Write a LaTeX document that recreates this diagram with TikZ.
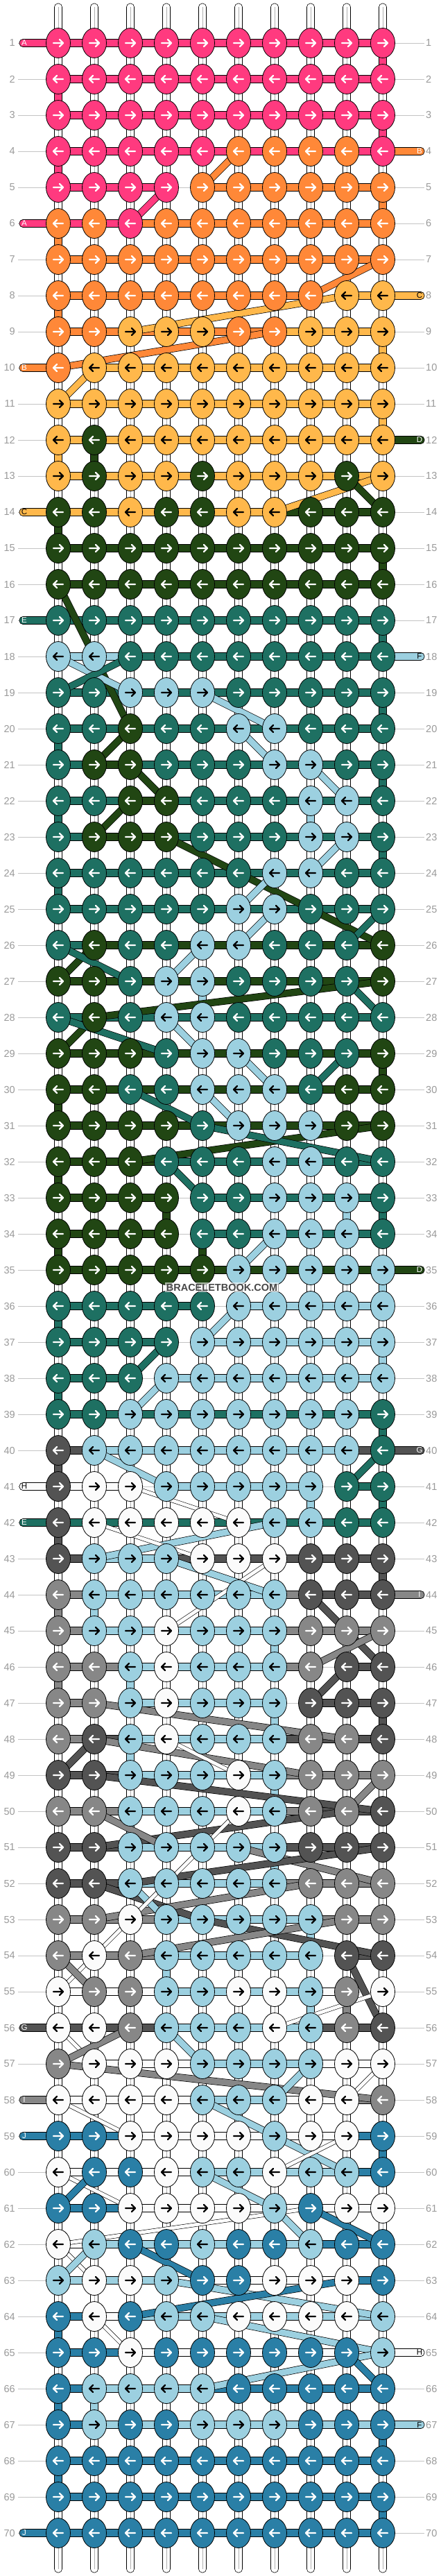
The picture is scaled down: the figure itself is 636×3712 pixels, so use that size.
\documentclass[tikz,border=0pt]{standalone}
\usepackage{fontspec}
\setmainfont{Liberation Sans}
\usetikzlibrary{shapes.geometric}
\definecolor{p}{HTML}{FF3A7F}
\definecolor{o}{HTML}{FF8838}
\definecolor{y}{HTML}{FFB84B}
\definecolor{d}{HTML}{214613}
\definecolor{t}{HTML}{1E7062}
\definecolor{l}{HTML}{9CD0E0}
\definecolor{k}{HTML}{535353}
\definecolor{g}{HTML}{878787}
\definecolor{w}{HTML}{FBFBFB}
\definecolor{b}{HTML}{2A7FA6}
\definecolor{labgray}{HTML}{9A9A9A}
\definecolor{guide}{HTML}{C4C4C4}
\colorlet{ap}{white}\colorlet{ao}{white}\colorlet{ay}{black}\colorlet{ad}{white}
\colorlet{at}{white}\colorlet{al}{black}\colorlet{ak}{white}\colorlet{ag}{white}
\colorlet{aw}{black}\colorlet{ab}{white}
\tikzset{
  knot/.style={ellipse, draw=black, line width=0.8pt, minimum width=35pt, minimum height=43pt, inner sep=0pt},
  band/.style={fill=#1, draw=black, line width=0.7pt},
  warp/.style={fill=white, draw=black, line width=0.6pt},
  vband/.style={fill=#1, draw=black, line width=0.6pt},
  diag/.style={draw=black, line width=0.7pt, double=#1, double distance=9pt},
  wdiag/.style={draw=black, line width=0.6pt, double=w, double distance=5pt},
  lab/.style={text=labgray, font=\fontsize{14.5}{14.5}\selectfont, inner sep=0pt},
  endlab/.style={font=\fontsize{11.5}{11.5}\selectfont, inner sep=0pt},
  arr/.style={line width=2.4pt, line cap=round, line join=round}
}
\begin{document}
\begin{tikzpicture}[x=1pt,y=-1pt]
\fill[white] (0,0) rectangle (636,3712);
\useasboundingbox (0,0) rectangle (636,3712);
% knot centres
\foreach \ro in {1,...,70}{\foreach \co in {1,...,10}{\coordinate (n\ro-\co) at ({32+52*\co},{10+52*\ro});}}
% guide lines and row numbers
\foreach \ro in {1,...,70}{
  \draw[guide, line width=0.8pt] ([xshift=-58pt]n\ro-1) -- ([xshift=60pt]n\ro-10);
  \node[lab, anchor=east] (ll\ro) at ([xshift=-62pt]n\ro-1) {\ro};
  \node[lab, anchor=west] (rl\ro) at ([xshift=62pt]n\ro-10) {\ro};
}
% loose warp ends
\foreach \co in {1,...,10}{
  \draw[warp, rounded corners=5pt] ([xshift=-5.5pt,yshift=57pt]n1-\co) rectangle ([xshift=5.5pt]n1-\co);
  \draw[guide!70!gray, line width=0.5pt] ([yshift=52pt]n1-\co) -- (n1-\co);
  \draw[warp, rounded corners=5pt] ([xshift=-5.5pt]n70-\co) rectangle ([xshift=5.5pt,yshift=-57pt]n70-\co);
  \draw[guide!70!gray, line width=0.5pt] (n70-\co) -- ([yshift=-52pt]n70-\co);
}
% warps between rows
\foreach \ro in {1,...,69}{\pgfmathtruncatemacro\rn{\ro+1}
  \foreach \co in {1,...,10}{
    \draw[warp] ([xshift=-5.5pt]n\ro-\co) rectangle ([xshift=5.5pt]n\rn-\co);
    \draw[guide!70!gray, line width=0.5pt] (n\ro-\co) -- (n\rn-\co);
}}
% coloured vertical links
\foreach \ro/\co/\vc in {1/10/p,2/1/p,3/10/p,4/1/p,5/10/o,6/1/o,8/1/o,9/10/y,11/10/y,12/1/y,12/2/d,
  14/1/d,15/10/d,17/10/t,19/10/t,20/1/t,21/10/t,22/1/t,22/8/l,23/10/t,24/1/t,27/5/l,29/10/d,30/1/d,
  32/1/d,33/4/d,33/9/l,33/10/t,34/1/d,34/5/d,35/10/l,36/1/t,37/10/l,38/1/t,39/10/t,40/1/k,41/8/l,
  41/10/t,42/1/k,43/10/k,44/1/g,44/2/l,45/7/l,46/1/g,46/3/l,47/7/l,47/10/k,48/3/l,49/7/l,50/3/l,
  51/7/l,53/8/l,54/4/l,55/8/l,55/9/g,59/10/b,64/1/b,66/1/b,66/2/l,67/10/b,68/1/b,69/10/b}{
  \pgfmathtruncatemacro\rn{\ro+1}
  \draw[vband=\vc] ([xshift=-5.5pt]n\ro-\co) rectangle ([xshift=5.5pt]n\rn-\co);
}
% horizontal bands
\foreach \ro/\ss in {
1/{p,p,p,p,p,p,p,p,p},2/{p,p,p,p,p,p,p,p,p},3/{p,p,p,p,p,p,p,p,p},4/{p,p,p,p,p,p,p,p,p},
5/{p,p,p,n,o,o,o,o,o},6/{p,p,o,o,o,o,o,o,o},7/{o,o,o,o,o,o,o,o,o},8/{o,o,o,o,o,o,o,n,y},
9/{o,o,o,o,o,o,y,y,y},10/{n,y,y,y,y,y,y,y,y},11/{y,y,y,y,y,y,y,y,y},12/{y,y,y,y,y,y,y,y,y},
13/{y,y,y,y,y,y,y,y,y},14/{y,y,y,y,y,y,d,d,d},15/{d,d,d,d,d,d,d,d,d},16/{d,d,d,d,d,d,d,d,d},
17/{t,t,t,t,t,t,t,t,t},18/{l,l,t,t,t,t,t,t,t},19/{t,t,t,t,t,t,t,t,t},20/{t,t,t,t,t,t,t,t,t},
21/{t,d,t,t,t,t,t,t,t},22/{t,t,d,t,t,t,t,t,t},23/{t,d,d,t,t,t,t,t,t},24/{t,t,t,t,t,t,t,t,t},
25/{t,t,t,t,t,t,t,t,t},26/{t,d,d,d,d,d,d,d,d},27/{d,d,d,d,d,d,d,d,d},28/{t,t,t,t,t,t,t,t,t},
29/{d,d,d,d,d,d,d,d,d},30/{d,d,d,d,d,d,d,d,d},31/{d,d,d,d,d,d,d,d,d},32/{d,d,d,t,t,t,t,t,t},
33/{d,d,d,n,t,t,t,t,t},34/{d,d,d,n,t,t,t,t,t},35/{d,d,d,d,d,d,d,d,d},36/{t,t,t,t,n,l,l,l,l},
37/{t,t,t,n,l,l,l,l,l},38/{t,t,n,l,l,l,l,l,l},39/{t,t,t,t,t,t,t,t,t},40/{k,l,l,l,l,l,l,l,k},
41/{w,w,n,l,l,l,l,n,t},42/{t,t,t,t,t,t,t,t,t},43/{k,l,l,k,k,k,k,k,k},44/{g,l,l,l,l,l,g,k,k},
45/{g,l,l,l,l,l,g,g,g},46/{g,g,l,l,l,l,g,n,k},47/{g,n,l,l,l,l,n,k,k},48/{g,k,l,l,l,l,k,k,k},
49/{k,k,l,l,l,l,g,g,g},50/{g,g,l,l,l,l,g,k,k},51/{k,k,l,l,l,l,k,k,k},52/{k,k,l,l,l,l,g,g,g},
53/{g,g,g,l,l,l,l,g,g},54/{g,g,g,l,l,l,l,n,k},55/{w,w,w,l,l,l,l,w,n},56/{k,k,k,l,l,l,l,k,k},
57/{n,w,w,w,l,l,l,w,w},58/{w,w,w,w,l,l,w,w,g},59/{b,b,w,w,w,w,w,w,b},60/{w,w,w,w,l,l,l,l,b},
61/{b,b,w,w,w,w,w,w,w},62/{w,l,l,l,l,l,l,b,b},63/{l,l,l,w,w,w,w,w,b},64/{b,w,l,l,l,l,l,l,l},
65/{b,b,w,w,w,w,w,w,w},66/{b,l,l,l,b,b,b,b,b},67/{b,l,l,l,l,l,l,l,l},68/{b,b,b,b,b,b,b,b,b},
69/{b,b,b,b,b,b,b,b,b},70/{b,b,b,b,b,b,b,b,b}}{
  \foreach \so [count=\co] in \ss {
    \if n\so\else
      \pgfmathtruncatemacro\cn{\co+1}
      \draw[band=\so] ([yshift=5.5pt]n\ro-\co) rectangle ([yshift=-5.5pt]n\ro-\cn);
    \fi
}}
% loose thread ends
\foreach \ro/\ec/\lt/\lc in {1/p/A/white,6/p/A/white,10/o/B/white,14/y/C/black,17/t/E/white,
  41/w/H/black,42/t/E/white,56/k/G/white,58/g/I/white,59/b/J/white,70/b/J/white}{
  \draw[band=\ec, rounded corners=5pt] ([xshift=-56pt,yshift=5.5pt]n\ro-1) rectangle ([yshift=-5.5pt]n\ro-1);
  \node[endlab, text=\lc] (el\ro) at ([xshift=-49pt]n\ro-1) {\lt};
}
\foreach \ro/\ec/\lt/\lc in {4/o/B/white,8/y/C/black,12/d/D/white,18/l/F/black,35/d/D/white,
  40/k/G/white,44/g/I/white,65/w/H/black,67/l/F/black}{
  \draw[band=\ec, rounded corners=5pt] ([yshift=5.5pt]n\ro-10) rectangle ([xshift=60pt,yshift=-5.5pt]n\ro-10);
  \node[endlab, text=\lc] (er\ro) at ([xshift=53pt]n\ro-10) {\lt};
}
% diagonal threads
\foreach \ra/\ca/\rb/\cb/\dc in {
4/6/5/5/o,5/4/6/3/p,7/10/8/8/o,8/9/9/3/y,9/7/10/1/o,10/2/11/1/y,13/10/14/7/y,13/9/14/10/d,
16/1/20/3/d,18/1/19/3/l,19/1/18/3/t,19/5/20/7/l,20/6/21/7/l,20/3/21/2/d,21/3/22/4/d,21/8/22/9/l,
22/3/23/2/d,23/4/26/10/d,23/9/24/8/l,24/7/25/6/l,25/7/26/6/l,26/5/27/4/l,25/10/26/9/t,26/2/27/1/d,
26/1/27/3/t,27/10/28/2/d,27/9/28/10/t,28/2/29/1/d,28/1/29/4/t,28/4/29/5/l,29/6/30/7/l,29/9/30/8/t,
30/3/31/5/t,30/5/31/6/l,31/10/32/3/d,31/5/32/10/t,32/4/33/5/t,34/7/35/6/l,36/6/37/5/l,37/4/38/3/t,
38/4/39/3/l,40/2/41/4/l,40/10/41/9/t,41/3/42/6/w,42/7/43/2/l,42/2/43/5/w,43/4/44/7/l,43/7/45/4/w,
44/8/46/10/k,45/10/46/8/g,46/9/47/8/k,47/2/48/9/g,48/2/49/8/g,48/4/49/6/w,49/1/48/2/k,49/2/50/10/k,
49/10/50/9/g,50/9/51/2/k,50/2/51/4/g,50/6/51/5/w,51/6/52/10/g,51/10/52/3/k,52/2/53/5/k,52/8/53/2/g,
52/3/53/4/l,51/5/53/3/w,53/5/54/10/k,53/9/54/3/g,53/3/55/1/w,54/1/55/2/g,54/9/56/10/k,55/10/56/7/w,
56/1/57/2/w,56/3/57/1/g,56/4/57/5/l,57/1/58/10/g,57/8/58/7/l,57/10/58/9/w,58/1/59/3/w,58/5/59/7/l,
59/7/60/9/l,59/9/60/7/w,60/1/61/3/w,60/2/61/1/b,60/5/61/7/l,61/7/62/8/l,61/8/62/1/w,61/8/62/10/b,
62/1/63/2/w,63/1/62/2/l,62/3/63/5/b,63/4/64/10/l,63/9/64/3/b,64/2/65/3/w,64/5/65/10/l,65/10/66/5/l,
65/9/66/10/b}{
  \if w\dc
    \draw[wdiag] (n\ra-\ca) -- (n\rb-\cb);
  \else
    \draw[diag=\dc] (n\ra-\ca) -- (n\rb-\cb);
  \fi
}
% knots
\foreach \ro/\ks in {
1/{p,p,p,p,p,p,p,p,p,p},2/{p,p,p,p,p,p,p,p,p,p},3/{p,p,p,p,p,p,p,p,p,p},4/{p,p,p,p,p,o,o,o,o,p},
5/{p,p,p,p,o,o,o,o,o,o},6/{o,o,p,o,o,o,o,o,o,o},7/{o,o,o,o,o,o,o,o,o,o},8/{o,o,o,o,o,o,o,o,y,y},
9/{o,o,y,y,y,o,o,y,y,y},10/{o,y,y,y,y,y,y,y,y,y},11/{y,y,y,y,y,y,y,y,y,y},12/{y,d,y,y,y,y,y,y,y,y},
13/{y,d,y,y,d,y,y,y,d,y},14/{d,d,y,d,d,y,y,d,d,d},15/{d,d,d,d,d,d,d,d,d,d},16/{d,d,d,d,d,d,d,d,d,d},
17/{t,t,t,t,t,t,t,t,t,t},18/{l,l,t,t,t,t,t,t,t,t},19/{t,t,l,l,l,t,t,t,t,t},20/{t,t,d,t,t,l,l,t,t,t},
21/{t,d,d,t,t,t,l,l,t,t},22/{t,t,d,d,t,t,t,l,l,t},23/{t,d,d,d,t,t,t,l,l,t},24/{t,t,t,t,t,t,l,l,t,t},
25/{t,t,t,t,t,l,l,t,t,t},26/{t,d,t,t,l,l,t,t,t,d},27/{d,d,t,l,l,t,t,t,t,d},28/{t,d,t,l,l,t,t,t,t,t},
29/{d,d,d,t,l,l,t,t,t,d},30/{d,d,t,t,l,l,l,t,d,d},31/{d,d,d,d,t,l,l,l,d,d},32/{d,d,d,t,t,t,l,l,t,t},
33/{d,d,d,d,t,t,l,l,l,t},34/{d,d,d,d,t,t,l,l,l,t},35/{d,d,d,d,d,l,l,l,l,l},36/{t,t,t,t,t,l,l,l,l,l},
37/{t,t,t,t,l,l,l,l,l,l},38/{t,t,t,l,l,l,l,l,l,l},39/{t,t,l,l,l,l,l,l,l,t},40/{k,l,l,l,l,l,l,l,l,t},
41/{k,w,w,l,l,l,l,l,t,t},42/{k,w,w,w,w,w,l,l,t,t},43/{k,l,l,l,w,w,w,k,k,k},44/{g,l,l,l,l,l,l,k,k,k},
45/{g,l,l,w,l,l,l,g,g,g},46/{g,g,l,w,l,l,l,g,k,k},47/{g,g,l,w,l,l,l,k,k,k},48/{g,k,l,w,l,l,l,g,g,k},
49/{k,k,l,l,l,w,l,g,g,g},50/{g,g,l,l,l,w,l,g,g,k},51/{k,k,l,l,l,l,l,k,k,k},52/{k,k,l,l,l,l,l,g,g,g},
53/{g,g,w,l,l,l,l,l,g,g},54/{g,w,g,l,l,l,l,l,k,k},55/{w,g,g,l,l,w,w,l,g,w},56/{w,w,g,l,l,l,w,l,g,k},
57/{g,w,w,w,l,l,l,l,w,w},58/{w,w,w,w,l,l,l,w,w,g},59/{b,b,w,w,w,w,l,w,w,b},60/{w,b,b,w,l,l,w,l,l,b},
61/{b,b,w,w,w,w,l,b,w,w},62/{w,l,b,b,l,b,b,l,b,b},63/{l,w,w,l,b,b,w,w,w,b},64/{b,w,b,l,l,w,w,w,w,l},
65/{b,b,w,b,b,b,b,b,b,l},66/{b,l,l,l,l,b,b,b,b,b},67/{b,l,b,b,l,l,l,b,b,b},68/{b,b,b,b,b,b,b,b,b,b},
69/{b,b,b,b,b,b,b,b,b,b},70/{b,b,b,b,b,b,b,b,b,b}}{
  \pgfmathtruncatemacro\dir{ifthenelse(mod(\ro,2)==1,1,-1)}
  \foreach \ko [count=\co] in \ks {
    \node[knot, fill=\ko] (k\ro-\co) at (n\ro-\co) {};
    \begin{scope}[shift={(n\ro-\co)}, xscale=\dir]
      \draw[arr, draw=a\ko] (-7,0) -- (7,0) (2,5) -- (7,0) -- (2,-5);
    \end{scope}
}}
% watermark
\node[fill=white, fill opacity=0.6, text opacity=1, text=k!85!black, inner sep=1.5pt,
  font=\fontsize{14.5}{14.5}\selectfont\bfseries] (wm) at (320,1855) {BRACELETBOOK.COM};
\end{tikzpicture}
\end{document}
